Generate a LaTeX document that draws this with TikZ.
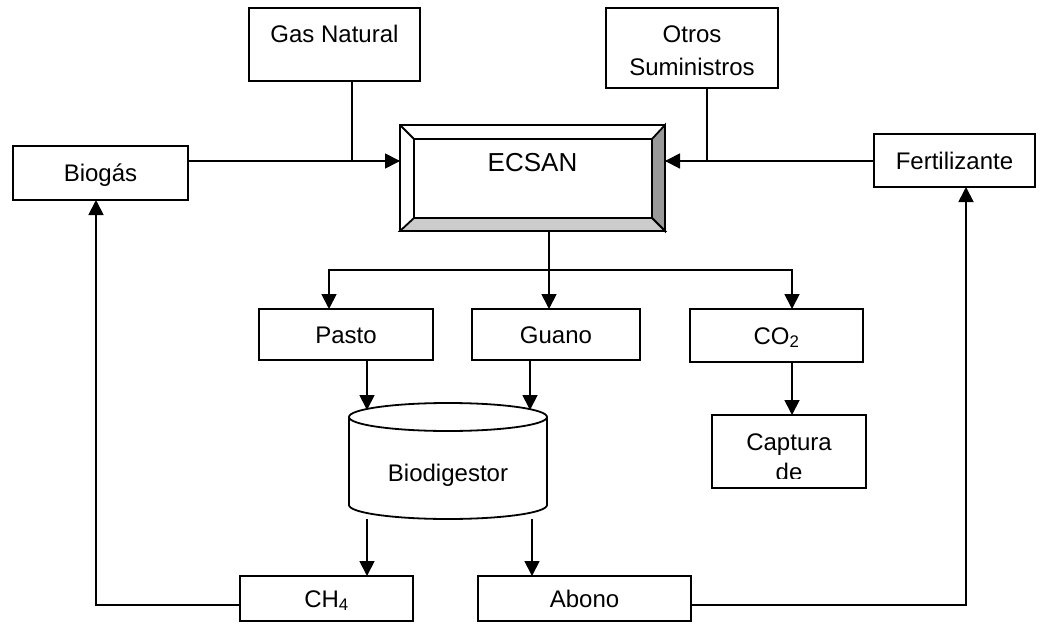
\documentclass[tikz,border=0pt]{standalone}
\usepackage{fontspec}
\setmainfont{Liberation Sans}
\usetikzlibrary{arrows.meta}

\tikzset{
    box/.style={draw, line width=1.8pt, inner sep=0pt, outer sep=0pt,
        font=\fontsize{24}{31}\selectfont, align=center},
    oneline/.style={text height=17.2pt, text depth=#1},
    wire/.style={line width=1.8pt},
    arr/.style={line width=1.8pt, -{Triangle[length=15pt,width=15pt]}}
}

\begin{document}
\begin{tikzpicture}[x=1pt,y=1pt]
            \useasboundingbox (0,0) rectangle (1044,-629);

            % Supplies
            \node[box, oneline=21pt, minimum width=171pt, minimum height=73pt] (gas) at (334.5,-44.5) {Gas Natural};
            \node[box, font=\fontsize{24}{33}\selectfont, minimum width=172pt, minimum height=80pt] (otros) at (692,-48) {};
            \node[font=\fontsize{24}{33}\selectfont, align=center] (otrostext) at ([yshift=-3pt]otros.center) {Otros\\Suministros};
            \node[box, oneline=0pt, minimum width=175pt, minimum height=54pt] (biogas) at (100.5,-173) {Biogás};
            \node[box, oneline=0pt, minimum width=161pt, minimum height=53pt] (fert) at (954.5,-160.5) {Fertilizante};

            % ECSAN
            \node[box, text height=18.6pt, text depth=32pt, font=\fontsize{26}{31}\selectfont,
                minimum width=265pt, minimum height=106pt] (ecsan) at (532.5,-178) {ECSAN};
            \draw[wire, fill=black!40] (ecsan.north east) -- ([shift={(-13pt,-14pt)}]ecsan.north east)
                -- ([shift={(-13pt,13pt)}]ecsan.south east) -- (ecsan.south east) -- cycle;
            \draw[wire, fill=black!20] (ecsan.south west) -- ([shift={(14pt,13pt)}]ecsan.south west)
                -- ([shift={(-13pt,13pt)}]ecsan.south east) -- (ecsan.south east) -- cycle;
            \draw[wire] (ecsan.north west) -- ([shift={(14pt,-14pt)}]ecsan.north west)
                -- ([shift={(-13pt,-14pt)}]ecsan.north east);
            \draw[wire] ([shift={(14pt,-14pt)}]ecsan.north west) -- ([shift={(14pt,13pt)}]ecsan.south west);

            % Products
            \node[box, oneline=0pt, minimum width=174pt, minimum height=51pt] (pasto) at (346,-334.5) {Pasto};
            \node[box, oneline=0pt, minimum width=168pt, minimum height=51pt] (guano) at (556,-334.5) {Guano};
            \node[box, oneline=0pt, minimum width=173pt, minimum height=53pt] (co2) at (776.5,-335.5) {CO\textsubscript{2}};

            % Biodigestor
            \node[inner sep=0pt, outer sep=0pt, font=\fontsize{24}{31}\selectfont, text height=41.2pt, text depth=0pt,
                minimum width=198pt, minimum height=116pt] (bio) at (448,-461) {Biodigestor};
            \draw[wire] ([yshift=-14pt]bio.north) ellipse [x radius=99pt, y radius=14pt];
            \draw[wire] ([yshift=-14pt]bio.north west) -- ([yshift=14pt]bio.south west)
                arc [start angle=180, end angle=360, x radius=99pt, y radius=14pt] -- ([yshift=-14pt]bio.north east);

            % Captura
            \node[box, minimum width=154pt, minimum height=73pt] (captura) at (789,-451.5) {};
            \begin{scope}
                \clip ([yshift=10pt]captura.south west) rectangle (captura.north east);
                \node[font=\fontsize{24}{30}\selectfont, align=center] (capturatext) at ([yshift=-5.5pt]captura.center) {Captura\\de};
            \end{scope}

            % Outputs
            \node[box, oneline=0pt, minimum width=173pt, minimum height=45pt] (ch4) at (326.5,-598.5) {CH\textsubscript{4}};
            \node[box, oneline=0pt, minimum width=213pt, minimum height=45pt] (abono) at (584.5,-598.5) {Abono};

            % Inputs to ECSAN
            \coordinate (inL) at ([yshift=17pt]ecsan.west);
            \coordinate (inR) at ([yshift=17pt]ecsan.east);
            \coordinate (gasout) at ([xshift=17.5pt]gas.south);
            \coordinate (otrosout) at ([xshift=15pt]otros.south);
            \draw[arr] (biogas.east |- inL) -- (inL);
            \draw[wire] (gasout) |- (inL);
            \draw[arr] (fert.west |- inR) -- (inR);
            \draw[wire] (otrosout) |- (inR);

            % ECSAN to products
            \coordinate (split) at (549,-270);
            \draw[arr] ([xshift=16.5pt]ecsan.south) -- ([xshift=-7pt]guano.north);
            \draw[arr] (split) -| ([xshift=-17pt]pasto.north);
            \draw[arr] (split) -| ([xshift=15.5pt]co2.north);
            \coordinate (co2out) at ([xshift=15.5pt]co2.south);
            \draw[arr] (co2out) -- (co2out |- captura.north);

            % Into and out of the biodigestor
            \coordinate (bioin) at ([yshift=-7pt]bio.north);
            \coordinate (pastoout) at ([xshift=21pt]pasto.south);
            \coordinate (guanoout) at ([xshift=-26pt]guano.south);
            \draw[arr] (pastoout) -- (pastoout |- bioin);
            \draw[arr] (guanoout) -- (guanoout |- bioin);
            \coordinate (bioL) at ([xshift=-81pt]bio.south);
            \coordinate (bioR) at ([xshift=84pt]bio.south);
            \draw[arr] (bioL) -- (bioL |- ch4.north);
            \draw[arr] (bioR) -- (bioR |- abono.north);

            % Feedback loops
            \draw[arr] ([yshift=-6.5pt]ch4.west) -| ([xshift=-4.5pt]biogas.south);
            \draw[arr] ([yshift=-6.5pt]abono.east) -| ([xshift=11.5pt]fert.south);
\end{tikzpicture}
\end{document}
